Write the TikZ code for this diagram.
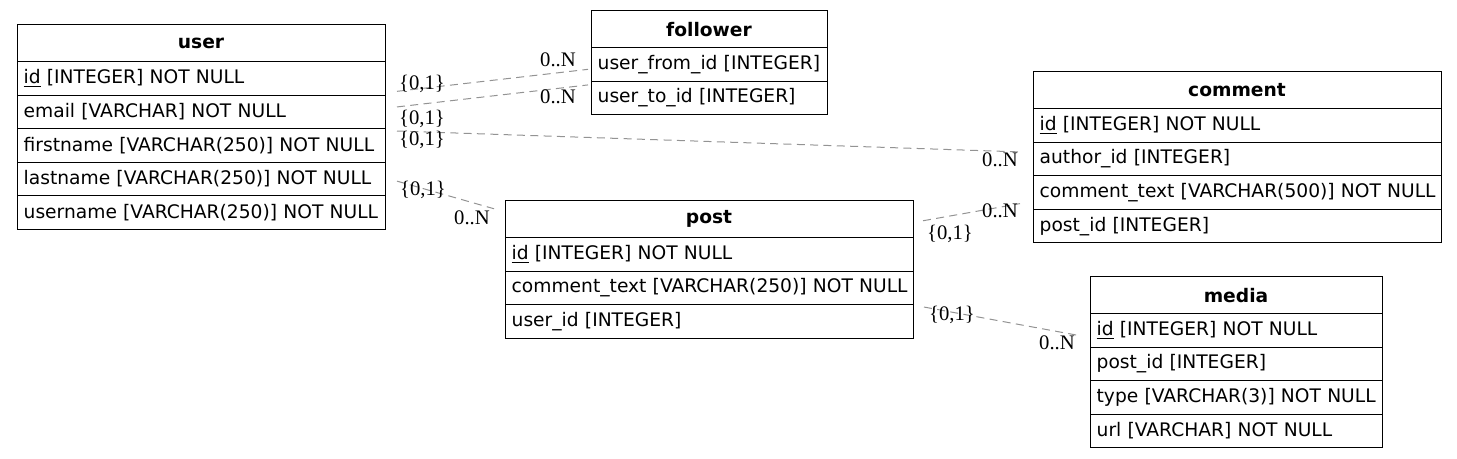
\documentclass[tikz,border=0pt]{standalone}
\usepackage{fontspec}
\setmainfont{Liberation Serif}
\setsansfont{DejaVu Sans}
\usetikzlibrary{positioning}

\begin{document}
\begin{tikzpicture}
                [
                    x=0.75pt,
                    y=-0.75pt,
                    tbl head/.style={draw, line width=0.75pt, outer sep=0pt, inner sep=0pt,
                        minimum width=#1, minimum height=27.4pt,
                        font=\sffamily\bfseries\fontsize{14}{17}\selectfont},
                    tbl row/.style={draw, line width=0.75pt, outer sep=0pt, inner xsep=5pt, inner ysep=0pt,
                        text width=#1, minimum height=25.2pt, align=left,
                        execute at begin node=\hbox\bgroup, execute at end node=\egroup,
                        font=\sffamily\fontsize{14}{17}\selectfont},
                    fk/.style={draw=gray!85, line width=0.75pt, dash pattern=on 6pt off 4pt},
                    card/.style={inner sep=0pt, font=\rmfamily\fontsize{15.5}{17}\selectfont}
                ]
                \useasboundingbox (0,0) rectangle (1457,459);

                % user
                \node (user) [tbl head=276pt, anchor=north west] at (17,25) {user};
                \node (user id)        [tbl row=266pt, below=0pt of user]           {\underline{id} [INTEGER] NOT NULL};
                \node (user email)     [tbl row=266pt, below=0pt of user id]        {email [VARCHAR] NOT NULL};
                \node (user firstname) [tbl row=266pt, below=0pt of user email]     {firstname [VARCHAR(250)] NOT NULL};
                \node (user lastname)  [tbl row=266pt, below=0pt of user firstname] {lastname [VARCHAR(250)] NOT NULL};
                \node (user username)  [tbl row=266pt, below=0pt of user lastname]  {username [VARCHAR(250)] NOT NULL};

                % follower
                \node (follower) [tbl head=177pt, anchor=north west] at (591,11) {follower};
                \node (follower from) [tbl row=167pt, below=0pt of follower]      {user\_from\_id [INTEGER]};
                \node (follower to)   [tbl row=167pt, below=0pt of follower from] {user\_to\_id [INTEGER]};

                % comment
                \node (comment) [tbl head=306pt, anchor=north west] at (1033,72) {comment};
                \node (comment id)     [tbl row=296pt, below=0pt of comment]        {\underline{id} [INTEGER] NOT NULL};
                \node (comment author) [tbl row=296pt, below=0pt of comment id]     {author\_id [INTEGER]};
                \node (comment text)   [tbl row=296pt, below=0pt of comment author] {comment\_text [VARCHAR(500)] NOT NULL};
                \node (comment post)   [tbl row=296pt, below=0pt of comment text]   {post\_id [INTEGER]};

                % post
                \node (post) [tbl head=306pt, anchor=north west] at (505,201) {post};
                \node (post id)   [tbl row=296pt, below=0pt of post]      {\underline{id} [INTEGER] NOT NULL};
                \node (post text) [tbl row=296pt, below=0pt of post id]   {comment\_text [VARCHAR(250)] NOT NULL};
                \node (post user) [tbl row=296pt, below=0pt of post text] {user\_id [INTEGER]};

                % media
                \node (media) [tbl head=219pt, anchor=north west] at (1090,277) {media};
                \node (media id)   [tbl row=209pt, below=0pt of media]      {\underline{id} [INTEGER] NOT NULL};
                \node (media post) [tbl row=209pt, below=0pt of media id]   {post\_id [INTEGER]};
                \node (media type) [tbl row=209pt, below=0pt of media post] {type [VARCHAR(3)] NOT NULL};
                \node (media url)  [tbl row=209pt, below=0pt of media type] {url [VARCHAR] NOT NULL};

                % relations
                \path [fk]
                ([shift={(12,13)}]user id.east)           -- ([shift={(-3,5)}]follower from.west)
                ([shift={(12,-5)}]user email.east)        -- ([shift={(-3,-13)}]follower to.west)
                ([shift={(12,-14.5)}]user firstname.east) -- ([shift={(-13,-7)}]comment author.west)
                ([shift={(12,2)}]user lastname.east)      -- ([shift={(-11,-10.5)}]post.west)
                ([shift={(10,1.5)}]post.east)             -- ([shift={(-13,-22.5)}]comment post.west)
                ([shift={(11,-14.5)}]post user.east)      -- ([shift={(-12,5)}]media id.west)
                ;

                \node (c1 tail) [card] at (422,84)   {\{0,1\}};
                \node (c1 head) [card] at (558,60)   {0..N};
                \node (c2 tail) [card] at (422,119)  {\{0,1\}};
                \node (c2 head) [card] at (558,97)   {0..N};
                \node (c3 tail) [card] at (422,140)  {\{0,1\}};
                \node (c3 head) [card] at (1000,160) {0..N};
                \node (c4 tail) [card] at (423,190)  {\{0,1\}};
                \node (c4 head) [card] at (472,218)  {0..N};
                \node (c5 tail) [card] at (950,234)  {\{0,1\}};
                \node (c5 head) [card] at (1000,211) {0..N};
                \node (c6 tail) [card] at (952,315)  {\{0,1\}};
                \node (c6 head) [card] at (1057,343) {0..N};

            \end{tikzpicture}
\end{document}
